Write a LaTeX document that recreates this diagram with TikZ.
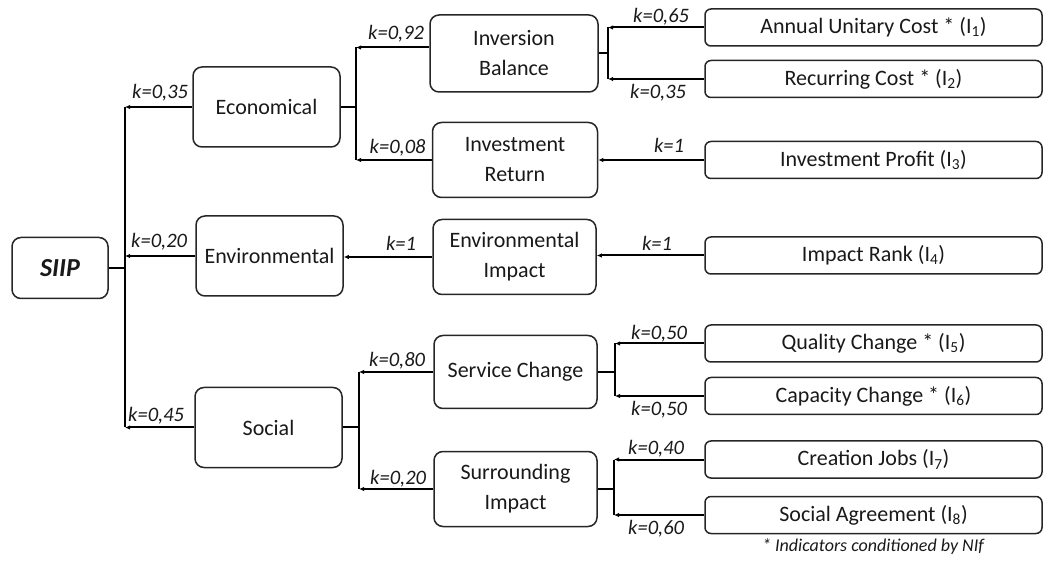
\documentclass[tikz,border=0pt]{standalone}
\usepackage{fontspec}
\setmainfont{Carlito}
\usetikzlibrary{arrows.meta,calc}
\begin{document}
\begin{tikzpicture}[x=1pt,y=-1pt,
  box/.style={draw=black!85, line width=1.5pt, rounded corners=9pt, align=center,
    inner sep=0pt, text=black!90, font=\fontsize{22}{30}\selectfont},
  midbox/.style={box, minimum width=165pt, minimum height=75pt},
  topbox/.style={box, minimum width=147pt, minimum height=80pt},
  leaf/.style={box, rounded corners=6pt, minimum width=337pt, minimum height=37pt,
    font=\fontsize{22}{26}\selectfont},
  link/.style={line width=2pt, black},
  arr/.style={link, -{Latex[length=5pt,width=4.5pt]}},
  wt/.style={inner sep=0pt, text=black!90, font=\fontsize{20.5}{22}\selectfont\itshape},
]
\useasboundingbox (0,0) rectangle (1045,561);

% root and first level
\node[box, minimum width=96pt, minimum height=61pt,
  font=\fontsize{26}{30}\selectfont\bfseries\itshape] (siip) at (60,268) {SIIP};
\node[topbox] (eco) at (266.5,107) {Economical};
\node[topbox] (env) at (269.5,256) {Environmental};
\node[topbox] (soc) at (268.5,427.5) {Social};

% second level
\node[midbox, minimum width=168pt, minimum height=77pt] (ib) at (514,53.5) {Inversion\\Balance};
\node[midbox] (ir) at (515,160) {Investment\\Return};
\node[midbox, minimum width=163pt] (ei) at (514.5,257) {Environmental\\Impact};
\node[midbox, minimum width=163pt, minimum height=73pt] (sc) at (515.5,372) {Service Change};
\node[midbox, minimum width=163pt] (si) at (515.5,489) {Surrounding\\Impact};

% indicators
\node[leaf] (l1) at (873.5,27.5) {Annual Unitary Cost * (I\textsubscript{1})};
\node[leaf] (l2) at (873.5,79) {Recurring Cost * (I\textsubscript{2})};
\node[leaf] (l3) at (873.5,160) {Investment Profit (I\textsubscript{3})};
\node[leaf] (l4) at (873.5,255.5) {Impact Rank (I\textsubscript{4})};
\node[leaf] (l5) at (873.5,343.5) {Quality Change * (I\textsubscript{5})};
\node[leaf] (l6) at (873.5,396) {Capacity Change * (I\textsubscript{6})};
\node[leaf] (l7) at (873.5,459.5) {Creation Jobs (I\textsubscript{7})};
\node[leaf] (l8) at (873.5,515) {Social Agreement (I\textsubscript{8})};

\node[inner sep=0pt, text=black!90, font=\fontsize{18}{20}\selectfont\itshape] (note)
  at (873,547) {* Indicators conditioned by NIf};

% bus lines
\coordinate (tr) at (125,0);
\coordinate (v1) at (356,0);
\coordinate (v2) at (608,0);
\coordinate (v3) at (359,0);
\coordinate (v4) at (615,0);
\coordinate (v5) at (614,0);
\coordinate (ibin) at ($(ib.west)+(0,-6)$);

% SIIP trunk
\draw[link] (siip.east) -- (siip.east -| tr);
\draw[link] (eco.west -| tr) -- (soc.west -| tr);
\draw[arr] (eco.west) -- (eco.west -| tr);
\draw[arr] (env.west) -- (env.west -| tr);
\draw[arr] (soc.west) -- (soc.west -| tr);
\node[wt, anchor=base east] (k1) at ($(eco.west)+(-4,-8)$) {k=0,35};
\node[wt, anchor=base east] (k2) at ($(env.west)+(-8,-8)$) {k=0,20};
\node[wt, anchor=base east] (k3) at ($(soc.west)+(-10,-6)$) {k=0,45};

% economical branch
\draw[link] (eco.east) -- (eco.east -| v1);
\draw[link] (ibin -| v1) -- (ir.west -| v1);
\draw[arr] (ibin) -- (ibin -| v1);
\draw[arr] (ir.west) -- (ir.west -| v1);
\node[wt, anchor=base east] (k4) at ($(ibin)+(-5,-8)$) {k=0,92};
\node[wt, anchor=base east] (k5) at ($(ir.west)+(-6,-6)$) {k=0,08};

\draw[link] (ib.east) -- (ib.east -| v2);
\draw[link] (l1.west -| v2) -- (l2.west -| v2);
\draw[arr] (l1.west) -- (l1.west -| v2);
\draw[arr] (l2.west) -- (l2.west -| v2);
\node[wt, anchor=base east] (k6) at ($(l1.west)+(-15,-5)$) {k=0,65};
\node[wt, anchor=base east] (k7) at ($(l2.west)+(-18,20)$) {k=0,35};

\draw[arr] (l3.west) -- (l3.west -| ir.east);
\node[wt, anchor=base east] (k8) at ($(l3.west)+(-20,-7)$) {k=1};

% environmental branch
\draw[arr] (l4.west) -- (l4.west -| ei.east);
\node[wt, anchor=base east] (k9) at ($(l4.west)+(-32,-5)$) {k=1};
\draw[arr] (ei.west) -- (ei.west -| env.east);
\node[wt, anchor=base east] (k10) at ($(ei.west)+(-16,-6)$) {k=1};

% social branch
\draw[link] (soc.east) -- (soc.east -| v3);
\draw[link] (sc.west -| v3) -- (si.west -| v3);
\draw[arr] (sc.west) -- (sc.west -| v3);
\draw[arr] (si.west) -- (si.west -| v3);
\node[wt, anchor=base east] (k11) at ($(sc.west)+(-8,-5)$) {k=0,80};
\node[wt, anchor=base east] (k12) at ($(si.west)+(-7,-5)$) {k=0,20};

\draw[link] (sc.east) -- (sc.east -| v4);
\draw[link] (l5.west -| v4) -- (l6.west -| v4);
\draw[arr] (l5.west) -- (l5.west -| v4);
\draw[arr] (l6.west) -- (l6.west -| v4);
\node[wt, anchor=base east] (k13) at ($(l5.west)+(-17,-4)$) {k=0,50};
\node[wt, anchor=base east] (k14) at ($(l6.west)+(-17,20)$) {k=0,50};

\draw[link] (si.east) -- (si.east -| v5);
\draw[link] (l7.west -| v5) -- (l8.west -| v5);
\draw[arr] (l7.west) -- (l7.west -| v5);
\draw[arr] (l8.west) -- (l8.west -| v5);
\node[wt, anchor=base east] (k15) at ($(l7.west)+(-20,-5)$) {k=0,40};
\node[wt, anchor=base east] (k16) at ($(l8.west)+(-20,19)$) {k=0,60};
\end{tikzpicture}
\end{document}
